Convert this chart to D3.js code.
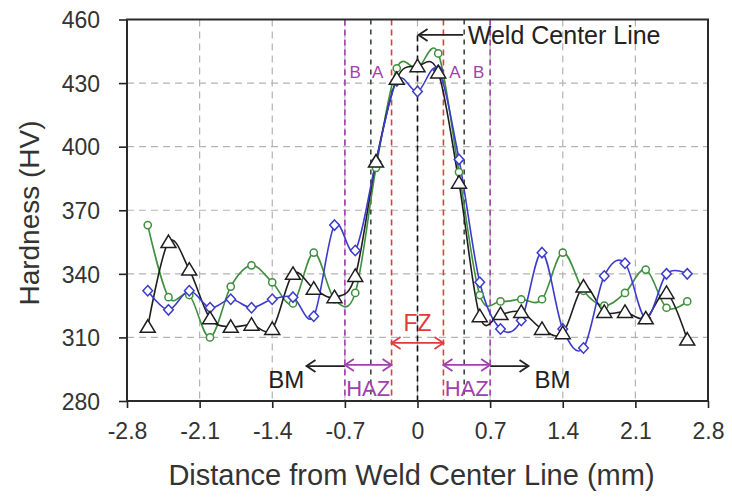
<!DOCTYPE html>
<html>
<head>
<meta charset="utf-8">
<script src="https://cdn.jsdelivr.net/npm/d3@7"></script>
<style>
  body { margin: 0; background: #fff; }
  svg text { font-family: "Liberation Sans", Arial, sans-serif; }
</style>
</head>
<body>
<div id="chart"></div>
<script>
// distance from weld center line (mm)
var distance = [-2.6, -2.4, -2.2, -2.0, -1.8, -1.6, -1.4, -1.2, -1.0, -0.8, -0.6, -0.4, -0.2, 0,
                0.2, 0.4, 0.6, 0.8, 1.0, 1.2, 1.4, 1.6, 1.8, 2.0, 2.2, 2.4, 2.6];
// hardness (HV) of the three traverses
var hvBlack = [315, 355, 342, 319, 315, 316, 314, 340, 333, 329, 339, 393, 432, 438,
               435, 383, 320, 321, 322, 314, 312, 334, 322, 322, 319, 331, 309];
var hvGreen = [363, 329, 330, 310, 334, 344, 336, 326, 350, 328, 331, 390, 437, 437,
               444, 388, 330, 327, 328, 328, 350, 332, 325, 331, 342, 324, 327];
var hvBlue  = [332, 323, 332, 324, 328, 324, 328, 329, 320, 363, 351, 393, 431, 426,
               436, 394, 336, 314, 318, 350, 314, 305, 339, 345, 319, 340, 340];

var xTicks = [-2.8, -2.1, -1.4, -0.7, 0, 0.7, 1.4, 2.1, 2.8];
var yTicks = [280, 310, 340, 370, 400, 430, 460];

// zone boundaries
var hazEdge = [-0.7, 0.7];
var aEdge = [-0.45, 0.45];
var fzEdge = [-0.25, 0.25];

var W = 732, H = 498;
var margin = { top: 19.5, right: 24, bottom: 97, left: 127 };
var width = W - margin.left - margin.right;
var height = H - margin.top - margin.bottom;

var purple = "#a23fae";
var red = "#e23b3b";

var svg = d3.select("#chart").append("svg")
    .attr("width", W)
    .attr("height", H);

var defs = svg.append("defs");
function arrowHead(id, color) {
    defs.append("marker")
        .attr("id", id)
        .attr("viewBox", "-10 -7 12 14")
        .attr("refX", 0).attr("refY", 0)
        .attr("markerWidth", 12).attr("markerHeight", 14)
        .attr("markerUnits", "userSpaceOnUse")
        .attr("orient", "auto-start-reverse")
        .append("path")
        .attr("d", "M-9,-6L0,0L-9,6")
        .attr("fill", "none")
        .attr("stroke", color)
        .attr("stroke-width", 1.8);
}
arrowHead("arBlack", "#222");
arrowHead("arPurple", purple);
arrowHead("arRed", red);

var g = svg.append("g").attr("transform", `translate(${margin.left},${margin.top})`);

var x = d3.scaleLinear().domain([-2.8, 2.8]).range([0, width]);
var y = d3.scaleLinear().domain([280, 460]).range([height, 0]);

// grid
g.append("g").selectAll("line")
    .data(yTicks.slice(1, -1))
    .enter().append("line")
    .attr("x1", 0).attr("x2", width)
    .attr("y1", d => y(d)).attr("y2", d => y(d))
    .attr("stroke", "#b3b3b3").attr("stroke-width", 1.2)
    .attr("stroke-dasharray", "7,5");
g.append("g").selectAll("line")
    .data(xTicks.slice(1, -1))
    .enter().append("line")
    .attr("x1", d => x(d)).attr("x2", d => x(d))
    .attr("y1", 0).attr("y2", height)
    .attr("stroke", "#b3b3b3").attr("stroke-width", 1.2)
    .attr("stroke-dasharray", "7,5");

// zone lines
function vline(v, color, dash, y0) {
    g.append("line")
        .attr("x1", x(v)).attr("x2", x(v))
        .attr("y1", y0).attr("y2", height)
        .attr("stroke", color).attr("stroke-width", 1.6)
        .attr("stroke-dasharray", dash);
}
hazEdge.forEach(v => vline(v, purple, "6,4", 0));
aEdge.forEach(v => vline(v, "#3c4a3c", "5,5", 0));
fzEdge.forEach(v => vline(v, red, "6,4", 0));
vline(0, "#111", "6,4", y(452.5));

// axes
var xAxis = g.append("g")
    .attr("transform", `translate(0,${height})`)
    .call(d3.axisBottom(x).tickValues(xTicks).tickSize(7).tickSizeOuter(0).tickFormat(d => String(d)));
var yAxis = g.append("g")
    .call(d3.axisLeft(y).tickValues(yTicks).tickSize(8).tickSizeOuter(0));
[xAxis, yAxis].forEach(a => {
    a.select(".domain").remove();
    a.selectAll(".tick line").attr("stroke", "#222").attr("stroke-width", 1.6);
    a.selectAll(".tick text").attr("fill", "#333").style("font-size", "23px");
});
xAxis.selectAll(".tick text").attr("dy", "1.2em");
yAxis.selectAll(".tick text").attr("x", -27).attr("dy", "0.36em");

g.append("rect")
    .attr("width", width).attr("height", height)
    .attr("fill", "none").attr("stroke", "#2a2a2a").attr("stroke-width", 2);

// series
var line = d3.line()
    .x(d => x(d[0]))
    .y(d => y(d[1]))
    .curve(d3.curveCardinal.tension(0));

var series = [
    { vals: hvGreen, color: "#3f8f3f", marker: "circle" },
    { vals: hvBlack, color: "#1e1e1e", marker: "triangle" },
    { vals: hvBlue, color: "#3b3bcc", marker: "diamond" }
];

series.forEach(s => {
    g.append("path")
        .datum(distance.map((d, i) => [d, s.vals[i]]))
        .attr("d", line)
        .attr("fill", "none")
        .attr("stroke", s.color)
        .attr("stroke-width", 1.6);
});

var shapes = {
    circle: "M3.6,0A3.6,3.6 0 1,1 -3.6,0A3.6,3.6 0 1,1 3.6,0Z",
    diamond: "M0,-5.2L4.8,0L0,5.2L-4.8,0Z",
    triangle: "M0,-7L7.5,5.5L-7.5,5.5Z"
};
["circle", "diamond", "triangle"].forEach(m => {
    var s = series.find(d => d.marker === m);
    g.append("g").selectAll("path")
        .data(distance.map((d, i) => [d, s.vals[i]]))
        .enter().append("path")
        .attr("transform", d => `translate(${x(d[0])},${y(d[1])})`)
        .attr("d", shapes[m])
        .attr("fill", "#fff")
        .attr("stroke", s.color)
        .attr("stroke-width", 1.5);
});

// annotations
function arrow(x1, x2, yv, color, id, both) {
    var a = g.append("line")
        .attr("x1", x(x1)).attr("x2", x(x2))
        .attr("y1", y(yv)).attr("y2", y(yv))
        .attr("stroke", color).attr("stroke-width", 1.8)
        .attr("marker-end", `url(#${id})`);
    if (both) a.attr("marker-start", `url(#${id})`);
}
function label(t, xv, yv, color, size, anchor) {
    g.append("text")
        .attr("x", x(xv)).attr("y", y(yv))
        .attr("text-anchor", anchor || "middle")
        .attr("dy", "0.36em")
        .attr("fill", color)
        .style("font-size", size + "px")
        .text(t);
}

arrow(0.44, 0.01, 452.7, "#222", "arBlack", false);
label("Weld Center Line", 0.485, 452.7, "#222", 25, "start");

label("B", -0.6, 435.5, purple, 17);
label("A", -0.385, 435.5, purple, 17);
label("A", 0.36, 435.5, purple, 17);
label("B", 0.59, 435.5, purple, 17);

arrow(-0.7, -1.07, 296.5, "#222", "arBlack", false);
arrow(0.7, 1.07, 296.5, "#222", "arBlack", false);
label("BM", -1.265, 290, "#222", 24);
label("BM", 1.3, 290, "#222", 24);

arrow(-0.7, -0.25, 297, purple, "arPurple", true);
arrow(0.25, 0.7, 297, purple, "arPurple", true);
label("HAZ", -0.475, 286, purple, 22);
label("HAZ", 0.475, 286, purple, 22);

arrow(-0.25, 0.25, 307.4, red, "arRed", true);
label("FZ", 0, 317, red, 23);

// axis titles
svg.append("text")
    .attr("x", margin.left + x(0) - 6).attr("y", 485)
    .attr("text-anchor", "middle")
    .attr("fill", "#333")
    .style("font-size", "29px")
    .text("Distance from Weld Center Line (mm)");
svg.append("text")
    .attr("transform", `translate(39,213) rotate(-90)`)
    .attr("text-anchor", "middle")
    .attr("fill", "#333")
    .style("font-size", "28px")
    .text("Hardness (HV)");
</script>
</body>
</html>
